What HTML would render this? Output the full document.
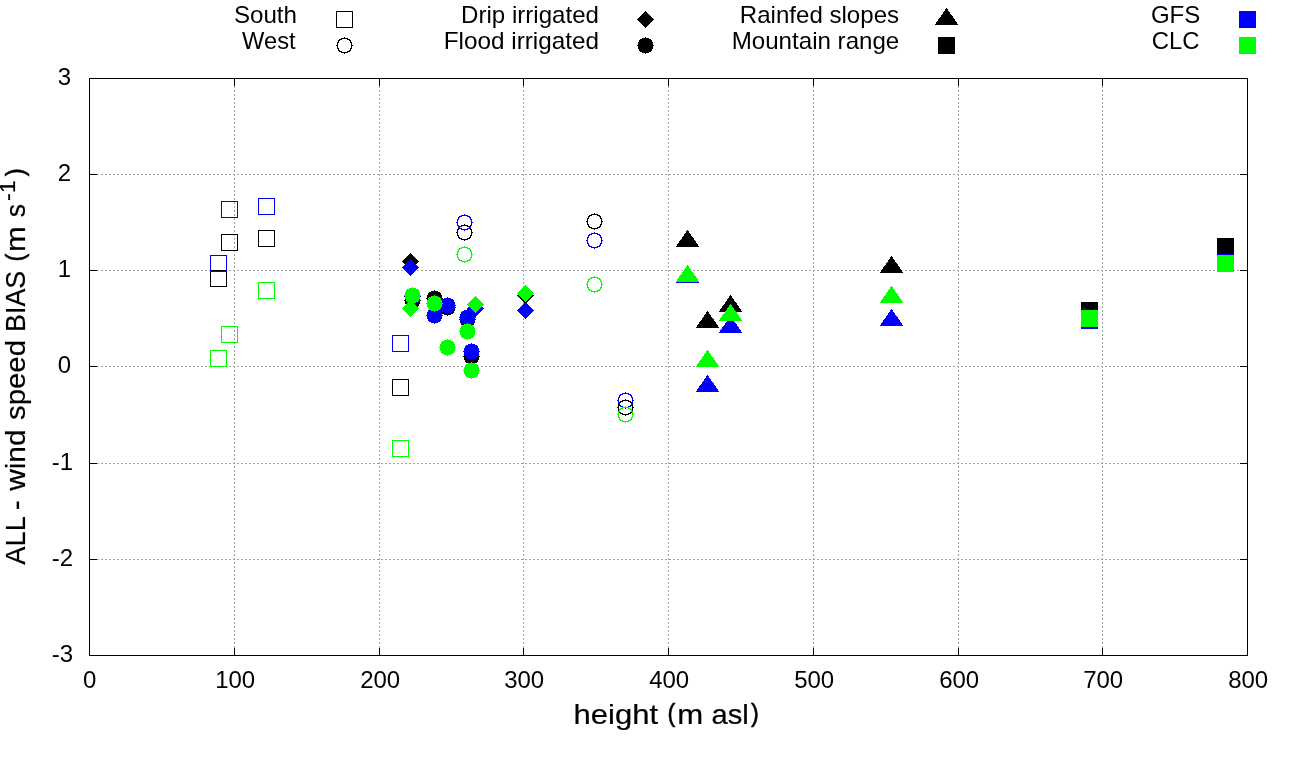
<!DOCTYPE html>
<html lang="en">
<head>
<meta charset="utf-8">
<title>ALL - wind speed BIAS vs height</title>
<style>
html,body{margin:0;padding:0;background:#fff;}
body{width:1290px;height:760px;overflow:hidden;font-family:"Liberation Sans",sans-serif;}
#chart{width:1290px;height:760px;will-change:transform;}
svg{display:block;}
</style>
</head>
<body>
<div id="chart">
<svg width="1290" height="760" viewBox="0 0 1290 760" role="img" aria-label="Scatter plot: ALL - wind speed BIAS (m/s) versus station height (m asl) for GFS and CLC">
<defs>
<path id="fc" d="M-0.5 -8.5h1v1h-1zM-3.5 -7.5h7v1h-7zM-5.5 -6.5h11v1h-11zM-6.5 -5.5h13v1h-13zM-6.5 -4.5h13v1h-13zM-7.5 -3.5h15v1h-15zM-7.5 -2.5h15v1h-15zM-7.5 -1.5h15v1h-15zM-8.5 -0.5h17v1h-17zM-7.5 0.5h15v1h-15zM-7.5 1.5h15v1h-15zM-7.5 2.5h15v1h-15zM-6.5 3.5h13v1h-13zM-6.5 4.5h13v1h-13zM-5.5 5.5h11v1h-11zM-3.5 6.5h7v1h-7zM-0.5 7.5h1v1h-1z"/>
<path id="oc" d="M-0.5 -8.5h1v1h-1zM-3.5 -7.5h7v1h-7zM-5.5 -6.5h3v1h-3zM2.5 -6.5h3v1h-3zM-6.5 -5.5h2v1h-2zM4.5 -5.5h2v1h-2zM-6.5 -4.5h1v1h-1zM5.5 -4.5h1v1h-1zM-7.5 -3.5h2v1h-2zM5.5 -3.5h2v1h-2zM-7.5 -2.5h1v1h-1zM6.5 -2.5h1v1h-1zM-7.5 -1.5h1v1h-1zM6.5 -1.5h1v1h-1zM-8.5 -0.5h2v1h-2zM6.5 -0.5h2v1h-2zM-7.5 0.5h1v1h-1zM6.5 0.5h1v1h-1zM-7.5 1.5h1v1h-1zM6.5 1.5h1v1h-1zM-7.5 2.5h2v1h-2zM5.5 2.5h2v1h-2zM-6.5 3.5h1v1h-1zM5.5 3.5h1v1h-1zM-6.5 4.5h2v1h-2zM4.5 4.5h2v1h-2zM-5.5 5.5h3v1h-3zM2.5 5.5h3v1h-3zM-3.5 6.5h7v1h-7zM-0.5 7.5h1v1h-1z"/>
<path id="di" d="M-0.5 -8.5h1v1h-1zM-1.5 -7.5h3v1h-3zM-2.5 -6.5h5v1h-5zM-3.5 -5.5h7v1h-7zM-4.5 -4.5h9v1h-9zM-5.5 -3.5h11v1h-11zM-6.5 -2.5h13v1h-13zM-7.5 -1.5h15v1h-15zM-8.5 -0.5h17v1h-17zM-7.5 0.5h15v1h-15zM-6.5 1.5h13v1h-13zM-5.5 2.5h11v1h-11zM-4.5 3.5h9v1h-9zM-3.5 4.5h7v1h-7zM-2.5 5.5h5v1h-5zM-1.5 6.5h3v1h-3zM-0.5 7.5h1v1h-1z"/>
<path id="tr" d="M-0.5 -11.5h1v1h-1zM-1.5 -10.5h3v1h-3zM-1.5 -9.5h3v1h-3zM-2.5 -8.5h5v1h-5zM-3.5 -7.5h7v1h-7zM-3.5 -6.5h7v1h-7zM-4.5 -5.5h9v1h-9zM-5.5 -4.5h11v1h-11zM-5.5 -3.5h12v1h-12zM-6.5 -2.5h13v1h-13zM-7.5 -1.5h15v1h-15zM-8.5 -0.5h17v1h-17zM-8.5 0.5h17v1h-17zM-9.5 1.5h19v1h-19zM-10.5 2.5h21v1h-21zM-10.5 3.5h21v1h-21zM-11.5 4.5h23v1h-23z"/>
<path id="fs" d="M-8.5-8.5h17v17h-17z"/>
<path id="os" d="M-8.5-8.5h17v17h-17zM-7.5-7.5v15h15v-15z"/>
</defs>
<rect x="0" y="0" width="1290" height="760" fill="#fff"/>
<g stroke="#a0a0a0" stroke-width="1" stroke-dasharray="2 2" fill="none" shape-rendering="crispEdges">
<path d="M89 174.5H1248"/>
<path d="M89 270.5H1248"/>
<path d="M89 366.5H1248"/>
<path d="M89 463.5H1248"/>
<path d="M89 559.5H1248"/>
<path d="M234.5 656V78"/>
<path d="M379.5 656V78"/>
<path d="M523.5 656V78"/>
<path d="M668.5 656V78"/>
<path d="M813.5 656V78"/>
<path d="M958.5 656V78"/>
<path d="M1102.5 656V78"/>
</g>
<g stroke="#000" stroke-width="1" fill="none" shape-rendering="crispEdges">
<path d="M89 174.5H97M1240 174.5H1248"/>
<path d="M89 270.5H97M1240 270.5H1248"/>
<path d="M89 366.5H97M1240 366.5H1248"/>
<path d="M89 463.5H97M1240 463.5H1248"/>
<path d="M89 559.5H97M1240 559.5H1248"/>
<path d="M234.5 648V656M234.5 78V86"/>
<path d="M379.5 648V656M379.5 78V86"/>
<path d="M523.5 648V656M523.5 78V86"/>
<path d="M668.5 648V656M668.5 78V86"/>
<path d="M813.5 648V656M813.5 78V86"/>
<path d="M958.5 648V656M958.5 78V86"/>
<path d="M1102.5 648V656M1102.5 78V86"/>
<rect x="89.5" y="78.5" width="1158.0" height="577.0"/>
</g>
<g font-family="'Liberation Sans', sans-serif" font-size="24px" fill="#000">
<g text-anchor="end">
<text x="71.2" y="85.0">3</text>
<text x="71.2" y="181.0">2</text>
<text x="71.2" y="277.0">1</text>
<text x="71.2" y="373.0">0</text>
<text x="73.2" y="470.0">-1</text>
<text x="73.2" y="566.0">-2</text>
<text x="73.2" y="662.0">-3</text>
</g>
<g text-anchor="middle">
<text x="89.8" y="688.2">0</text>
<text x="235.2" y="688.2">100</text>
<text x="380.2" y="688.2">200</text>
<text x="524.2" y="688.2">300</text>
<text x="669.2" y="688.2">400</text>
<text x="814.2" y="688.2">500</text>
<text x="959.2" y="688.2">600</text>
<text x="1103.2" y="688.2">700</text>
<text x="1248.2" y="688.2">800</text>
</g>
<g>
<text x="233.90" y="22.9" textLength="63.06" lengthAdjust="spacingAndGlyphs">South</text>
<text x="242.10" y="48.8" textLength="53.48" lengthAdjust="spacingAndGlyphs">West</text>
<text x="461.12" y="22.9" textLength="137.83" lengthAdjust="spacingAndGlyphs">Drip irrigated</text>
<text x="443.81" y="48.8" textLength="155.16" lengthAdjust="spacingAndGlyphs">Flood irrigated</text>
<text x="739.83" y="22.9" textLength="159.24" lengthAdjust="spacingAndGlyphs">Rainfed slopes</text>
<text x="731.72" y="48.8" textLength="167.55" lengthAdjust="spacingAndGlyphs">Mountain range</text>
<text x="1150.89" y="22.9" textLength="49.41" lengthAdjust="spacingAndGlyphs">GFS</text>
<text x="1151.69" y="48.8" textLength="47.72" lengthAdjust="spacingAndGlyphs">CLC</text>
</g>
</g>
<text font-family="'Liberation Sans', sans-serif" font-size="28px" fill="#000" stroke="#000" stroke-width="0.2" y="723.7"><tspan x="573.55" textLength="84.53" lengthAdjust="spacingAndGlyphs">height</tspan> <tspan x="667.55" textLength="7.79" lengthAdjust="spacingAndGlyphs" font-size="25.5px" stroke-width="0.55" dy="-1.75">(</tspan><tspan x="677.23" textLength="25.92" lengthAdjust="spacingAndGlyphs" dy="1.75">m</tspan> <tspan x="711.56" textLength="37.29" lengthAdjust="spacingAndGlyphs">asl</tspan><tspan x="750.96" textLength="7.79" lengthAdjust="spacingAndGlyphs" font-size="25.5px" stroke-width="0.55" dy="-1.75">)</tspan></text>
<g transform="translate(25.4 564.6) rotate(-90)">
<text font-family="'Liberation Sans', sans-serif" font-size="28px" fill="#000" stroke="#000" stroke-width="0.2" y="0"><tspan x="-0.05" textLength="47.54" lengthAdjust="spacingAndGlyphs">ALL</tspan> <tspan x="54.27" textLength="9.96" lengthAdjust="spacingAndGlyphs">-</tspan> <tspan x="73.74" textLength="61.48" lengthAdjust="spacingAndGlyphs">wind</tspan> <tspan x="144.58" textLength="80.01" lengthAdjust="spacingAndGlyphs">speed</tspan> <tspan x="232.70" textLength="61.03" lengthAdjust="spacingAndGlyphs">BIAS</tspan> <tspan x="303.05" textLength="7.79" lengthAdjust="spacingAndGlyphs" font-size="25.5px" stroke-width="0.55" dy="-1.75">(</tspan><tspan x="312.64" textLength="25.80" lengthAdjust="spacingAndGlyphs" dy="1.75">m</tspan> <tspan x="347.26" textLength="13.30" lengthAdjust="spacingAndGlyphs">s</tspan><tspan x="363.67" textLength="20.67" lengthAdjust="spacingAndGlyphs" font-size="22.4px" dy="-10.20">-1</tspan><tspan x="388.46" textLength="7.91" lengthAdjust="spacingAndGlyphs" font-size="25.5px" stroke-width="0.55" dy="8.45">)</tspan></text>
</g>
<g shape-rendering="crispEdges" stroke="none">
<g fill="#000">
<use href="#os" x="229.5" y="242.5"/>
<use href="#os" x="266.5" y="238.5"/>
<use href="#os" x="218.5" y="278.5"/>
<use href="#os" x="400.5" y="387.5"/>
<use href="#oc" x="464.5" y="232.5"/>
<use href="#oc" x="594.5" y="221.5"/>
<use href="#oc" x="625.5" y="407.5"/>
<use href="#di" x="410.5" y="261.5"/>
<use href="#di" x="475.5" y="308.5"/>
<use href="#di" x="525.5" y="295.5"/>
<use href="#fc" x="412.5" y="300.5"/>
<use href="#fc" x="434.5" y="298.5"/>
<use href="#fc" x="447.5" y="307.5"/>
<use href="#fc" x="467.5" y="319.5"/>
<use href="#fc" x="471.5" y="356.5"/>
<use href="#tr" x="687.5" y="241.5"/>
<use href="#tr" x="707.5" y="322.5"/>
<use href="#tr" x="730.5" y="306.5"/>
<use href="#tr" x="891.5" y="267.5"/>
<use href="#fs" x="1089.5" y="310.5"/>
<use href="#fs" x="1225.5" y="246.5"/>
</g>
<g fill="#00f">
<use href="#os" x="229.5" y="209.5"/>
<use href="#os" x="266.5" y="206.5"/>
<use href="#os" x="218.5" y="263.5"/>
<use href="#os" x="400.5" y="343.5"/>
<use href="#oc" x="464.5" y="222.5"/>
<use href="#oc" x="594.5" y="240.5"/>
<use href="#oc" x="625.5" y="400.5"/>
<use href="#di" x="410.5" y="267.5"/>
<use href="#di" x="475.5" y="308.5"/>
<use href="#di" x="525.5" y="310.5"/>
<use href="#fc" x="412.5" y="296.5"/>
<use href="#fc" x="434.5" y="315.5"/>
<use href="#fc" x="447.5" y="305.5"/>
<use href="#fc" x="467.5" y="317.5"/>
<use href="#fc" x="471.5" y="351.5"/>
<use href="#tr" x="687.5" y="277.5"/>
<use href="#tr" x="707.5" y="386.5"/>
<use href="#tr" x="730.5" y="327.5"/>
<use href="#tr" x="891.5" y="320.5"/>
<use href="#fs" x="1089.5" y="320.5"/>
<use href="#fs" x="1225.5" y="262.5"/>
</g>
<g fill="#0f0">
<use href="#os" x="266.5" y="290.5"/>
<use href="#os" x="229.5" y="334.5"/>
<use href="#os" x="218.5" y="358.5"/>
<use href="#os" x="400.5" y="448.5"/>
<use href="#oc" x="464.5" y="254.5"/>
<use href="#oc" x="594.5" y="284.5"/>
<use href="#oc" x="625.5" y="414.5"/>
<use href="#di" x="410.5" y="308.5"/>
<use href="#di" x="475.5" y="304.5"/>
<use href="#di" x="525.5" y="293.5"/>
<use href="#fc" x="412.5" y="295.5"/>
<use href="#fc" x="434.5" y="303.5"/>
<use href="#fc" x="447.5" y="347.5"/>
<use href="#fc" x="467.5" y="331.5"/>
<use href="#fc" x="471.5" y="370.5"/>
<use href="#tr" x="687.5" y="276.5"/>
<use href="#tr" x="707.5" y="361.5"/>
<use href="#tr" x="730.5" y="315.5"/>
<use href="#tr" x="891.5" y="297.5"/>
<use href="#fs" x="1089.5" y="318.5"/>
<use href="#fs" x="1225.5" y="263.5"/>
</g>
<g fill="#000">
<use href="#os" x="344.5" y="19.5"/>
<use href="#oc" x="344.5" y="45.5"/>
<use href="#di" x="645.5" y="19.5"/>
<use href="#fc" x="645.5" y="45.5"/>
<use href="#tr" x="946.5" y="19.5"/>
<use href="#fs" x="946.5" y="45.5"/>
</g>
<g fill="#00f"><use href="#fs" x="1247.5" y="19.5"/></g>
<g fill="#0f0"><use href="#fs" x="1247.5" y="45.5"/></g>
</g>
</svg>
</div>
</body>
</html>
